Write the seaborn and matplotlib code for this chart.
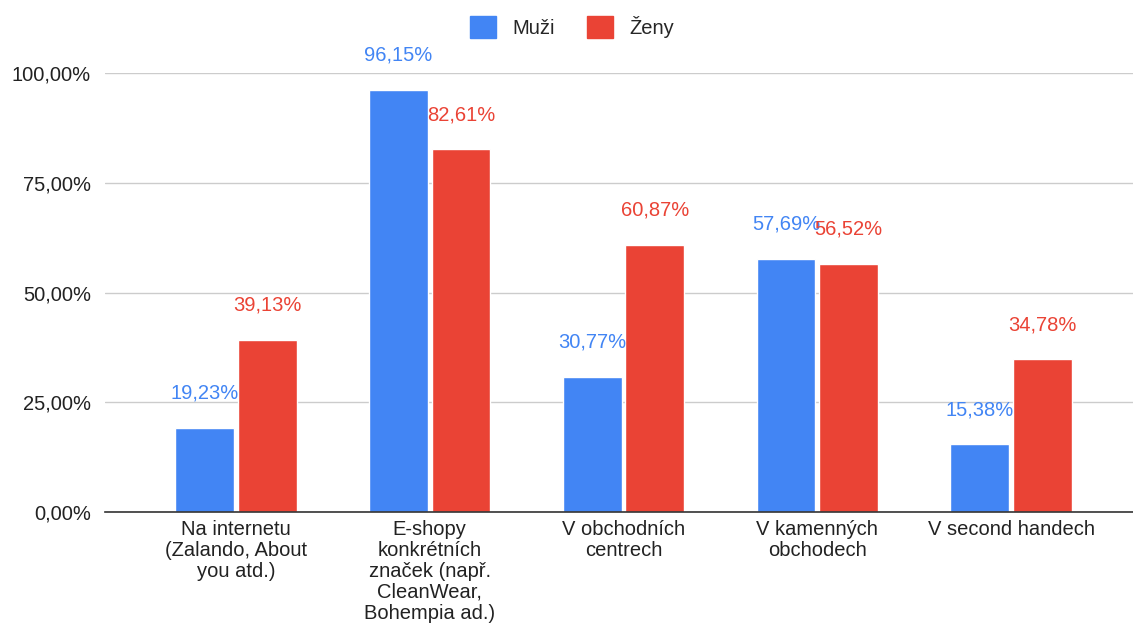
import pandas as pd
import matplotlib.pyplot as plt
import seaborn as sns
from matplotlib.ticker import FuncFormatter
from matplotlib.patches import Patch

# Data
categories = [
    "Na internetu\n(Zalando, About\nyou atd.)",
    "E-shopy\nkonkrétních\nznaček (např.\nCleanWear,\nBohempia ad.)",
    "V obchodních\ncentrech",
    "V kamenných\nobchodech",
    "V second handech",
]
muzi = [19.23, 96.15, 30.77, 57.69, 15.38]
zeny = [39.13, 82.61, 60.87, 56.52, 34.78]
series = ["Muži", "Ženy"]
colors = ["#4285F4", "#EA4335"]

df = pd.DataFrame({
    "kategorie": categories * 2,
    "pohlavi": [series[0]] * len(categories) + [series[1]] * len(categories),
    "hodnota": muzi + zeny,
})

sns.set_style("white")
plt.rcParams['font.family'] = ['Liberation Sans', 'DejaVu Sans']

fig = plt.figure(figsize=(11.33, 6.28), dpi=100)
ax = fig.add_axes([105 / 1133, (628 - 512) / 628, 1028 / 1133, (512 - 73) / 628])

sns.barplot(data=df, x="kategorie", y="hodnota", hue="pohlavi",
            palette=colors, width=0.645, gap=0.06, ax=ax, legend=False,
            saturation=1)

# value labels above bars, same colour as the series
for cont, col in zip(ax.containers, colors):
    labels = [f"{v:.2f}".replace(".", ",") + "%" for v in cont.datavalues]
    for bar, lab in zip(cont, labels):
        ax.annotate(lab, (bar.get_x() + bar.get_width() / 2, bar.get_height()),
                    xytext=(0, 25), textcoords="offset points",
                    ha="center", va="center", color=col, fontsize=14.5,
                    annotation_clip=False)

ax.set_ylim(0, 100)
ax.set_xlim((105 - 236) / 193.75, (1133 - 236) / 193.75)
ax.set_yticks([0, 25, 50, 75, 100])
ax.yaxis.set_major_formatter(FuncFormatter(lambda v, p: f"{v:.2f}".replace(".", ",") + "%"))
ax.grid(axis="y", color="#cccccc", linewidth=1)
ax.set_axisbelow(True)
for s in ["top", "right", "left"]:
    ax.spines[s].set_visible(False)
ax.spines["bottom"].set_color("#333333")
ax.spines["bottom"].set_linewidth(1.2)
ax.tick_params(axis="both", length=0, labelsize=14.5, labelcolor="#222222")
ax.tick_params(axis="y", pad=10)
ax.tick_params(axis="x", pad=6)
for t in ax.get_xticklabels():
    t.set_linespacing(1.12)
ax.set_xlabel("")
ax.set_ylabel("")

handles = [Patch(facecolor=c, edgecolor=c) for c in colors]
fig.legend(handles, series, loc="center", bbox_to_anchor=(0.505, 0.957), ncol=2,
           frameon=False, fontsize=14.5, handlelength=1.3, handleheight=1.3,
           columnspacing=1.6, handletextpad=0.8)

fig.savefig("out.png", dpi=100)
